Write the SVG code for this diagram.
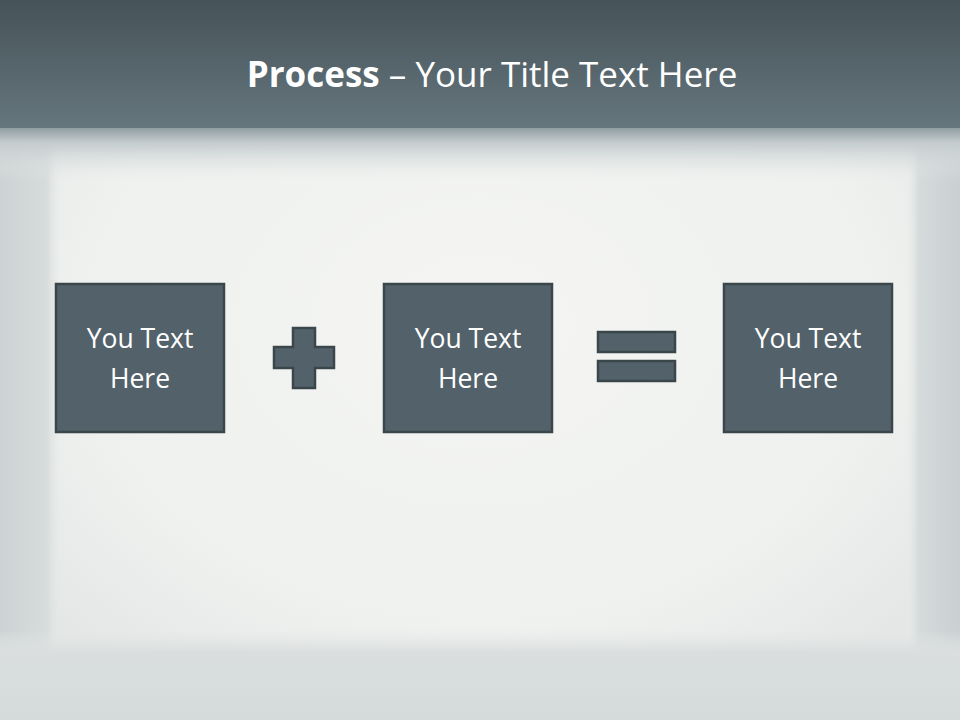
<svg xmlns="http://www.w3.org/2000/svg" width="960" height="720" viewBox="0 0 960 720">
<defs>
<linearGradient id="band" x1="0" y1="0" x2="0" y2="1">
<stop offset="0" stop-color="#465359"/>
<stop offset="1" stop-color="#65767c"/>
</linearGradient>
<linearGradient id="fade" x1="0" y1="0" x2="0" y2="1">
<stop offset="0" stop-color="#8a999d"/>
<stop offset="0.3" stop-color="#c3cbcd"/>
<stop offset="1" stop-color="#e6e9e8" stop-opacity="0"/>
</linearGradient>
<linearGradient id="leftEdge" x1="0" y1="0" x2="1" y2="0">
<stop offset="0" stop-color="#cdd3d4"/>
<stop offset="0.75" stop-color="#d6dbdb"/>
<stop offset="1" stop-color="#e9ecea" stop-opacity="0"/>
</linearGradient>
<linearGradient id="rightEdge" x1="1" y1="0" x2="0" y2="0">
<stop offset="0" stop-color="#c9d0d2"/>
<stop offset="0.75" stop-color="#d5dadb"/>
<stop offset="1" stop-color="#e9ecea" stop-opacity="0"/>
</linearGradient>
<linearGradient id="bottomEdge" x1="0" y1="0" x2="0" y2="1">
<stop offset="0" stop-color="#e3e6e5" stop-opacity="0"/>
<stop offset="0.25" stop-color="#dadede"/>
<stop offset="1" stop-color="#d5dadb"/>
</linearGradient>
<radialGradient id="center" cx="0.5" cy="0.45" r="0.6">
<stop offset="0" stop-color="#f4f5f3"/>
<stop offset="0.7" stop-color="#eff1ef"/>
<stop offset="1" stop-color="#e4e7e6"/>
</radialGradient>
</defs>
<style>
.box{fill:#53626a;stroke:#3b464b;stroke-width:2.5}
.sym{fill:#53626a;stroke:#3b464b;stroke-width:2.5}
.lbl{font-family:"Open Sans","Noto Sans","Liberation Sans",sans-serif;font-size:26.5px;fill:#ffffff;text-anchor:middle}
.title{font-family:"Open Sans","Noto Sans","Liberation Sans",sans-serif;font-size:35px;fill:#ffffff;text-anchor:middle}
</style>
<rect x="0" y="0" width="960" height="720" fill="url(#center)"/>
<rect x="0" y="120" width="62" height="600" fill="url(#leftEdge)"/>
<rect x="905" y="120" width="55" height="600" fill="url(#rightEdge)"/>
<rect x="0" y="630" width="960" height="90" fill="url(#bottomEdge)"/>
<rect x="0" y="126" width="960" height="55" fill="url(#fade)"/>
<rect x="0" y="0" width="960" height="128" fill="url(#band)"/>
<text class="title" x="492" y="87"><tspan font-weight="bold">Process</tspan> – Your Title Text Here</text>
<g id="node1">
<rect class="box" x="56" y="284" width="168" height="148"/>
<text class="lbl" x="140" y="348">You Text</text>
<text class="lbl" x="140" y="388">Here</text>
</g>
<g id="plus">
<path class="sym" d="M293,328 H315 V347 H334 V368 H315 V388 H293 V368 H274 V347 H293 Z"/>
</g>
<g id="node2">
<rect class="box" x="384" y="284" width="168" height="148"/>
<text class="lbl" x="468" y="348">You Text</text>
<text class="lbl" x="468" y="388">Here</text>
</g>
<g id="equals">
<rect class="sym" x="598" y="332" width="77" height="20"/>
<rect class="sym" x="598" y="361" width="77" height="20"/>
</g>
<g id="node3">
<rect class="box" x="724" y="284" width="168" height="148"/>
<text class="lbl" x="808" y="348">You Text</text>
<text class="lbl" x="808" y="388">Here</text>
</g>
<g id="connectors"></g>
</svg>
